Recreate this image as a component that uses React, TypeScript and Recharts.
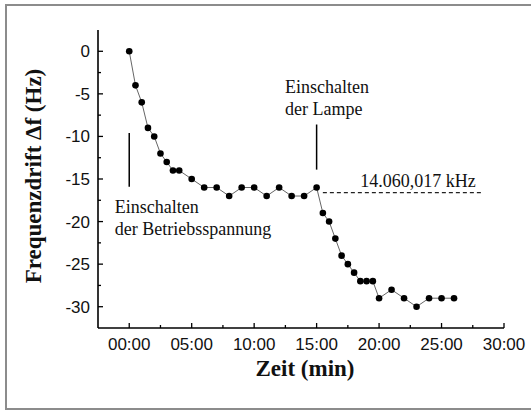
import React from 'react';
import { LineChart, Line, XAxis, YAxis, ReferenceLine, ReferenceDot, Label } from 'recharts';

// ---- data ----
const timeMin = [0, 0.5, 1, 1.5, 2, 2.5, 3, 3.5, 4, 5, 6, 7, 8, 9, 10, 11, 12, 13, 14, 15, 15.5, 16, 16.5, 17, 17.5, 18, 18.5, 19, 19.5, 20, 21, 22, 23, 24, 25, 26];
const driftHz = [0, -4, -6, -9, -10, -12, -13, -14, -14, -15, -16, -16, -17, -16, -16, -17, -16, -17, -17, -16, -19, -20, -22, -24, -25, -26, -27, -27, -27, -29, -28, -29, -30, -29, -29, -29];

const majorXTicks = [0, 5, 10, 15, 20, 25, 30];
const allXTicks = [0, 2.5, 5, 7.5, 10, 12.5, 15, 17.5, 20, 22.5, 25, 27.5, 30];
const majorYTicks = [-30, -25, -20, -15, -10, -5, 0];
const allYTicks = [-30, -27.5, -25, -22.5, -20, -17.5, -15, -12.5, -10, -7.5, -5, -2.5, 0];

const xDomain = [-2.5, 30];
const yDomain = [-32.5, 2.5];

const xTitle = 'Zeit (min)';
const yTitle = 'Frequenzdrift \u0394f (Hz)';

// annotations (data coordinates)
const markerSegments = [
  [{ x: 0, y: -9.6 }, { x: 0, y: -15.9 }],
  [{ x: 15, y: -8.6 }, { x: 15, y: -13.9 }],
];
const baselineSegment = [{ x: 15.5, y: -16.6 }, { x: 28.2, y: -16.6 }];
const annotTexts = [
  { x: -1.16, y: -19.0, lines: ['Einschalten', 'der Betriebsspannung'] },
  { x: 12.47, y: -4.9, lines: ['Einschalten', 'der Lampe'] },
  { x: 18.5, y: -15.9, lines: ['14.060,017 kHz'] },
];

const data = timeMin.map((t, i) => ({ t, drift: driftHz[i] }));

const SANS = '"Liberation Sans", Arial, sans-serif';
const SERIF = '"Liberation Serif", "Times New Roman", serif';

const fmtTime = (v: number) => `${String(v).padStart(2, '0')}:00`;

const BottomTick = (p: any) => {
  const v = p.payload.value;
  const major = majorXTicks.includes(v);
  return (
    <g>
      <line x1={p.x} x2={p.x} y1={p.y} y2={p.y - (major ? 5 : 3)} stroke="#000" strokeWidth={1.3} />
      {major && (
        <text x={p.x} y={p.y + 22} textAnchor="middle" fontFamily={SANS} fontSize={17} fill="#111">
          {fmtTime(v)}
        </text>
      )}
    </g>
  );
};

const TopTick = (p: any) => {
  const v = p.payload.value;
  const major = majorXTicks.includes(v);
  return <line x1={p.x} x2={p.x} y1={p.y} y2={p.y + (major ? 5 : 3)} stroke="#000" strokeWidth={1.3} />;
};

const LeftTick = (p: any) => {
  const v = p.payload.value;
  const major = majorYTicks.includes(v);
  return (
    <g>
      <line x1={p.x} x2={p.x + (major ? 5 : 3)} y1={p.y} y2={p.y} stroke="#000" strokeWidth={1.3} />
      {major && (
        <text x={p.x - 8} y={p.y + 6} textAnchor="end" fontFamily={SANS} fontSize={17} fill="#111">
          {String(v)}
        </text>
      )}
    </g>
  );
};

const RightTick = (p: any) => {
  const v = p.payload.value;
  const major = majorYTicks.includes(v);
  return <line x1={p.x} x2={p.x - (major ? 5 : 3)} y1={p.y} y2={p.y} stroke="#000" strokeWidth={1.3} />;
};

const YTitle = (props: any) => {
  const vb = props.viewBox;
  const cx = vb.x + 33;
  const cy = vb.y + vb.height / 2 - 3;
  return (
    <text
      x={cx}
      y={cy}
      transform={`rotate(-90 ${cx} ${cy})`}
      textAnchor="middle"
      dominantBaseline="central"
      fontFamily={SERIF}
      fontWeight="bold"
      fontSize={23}
      fill="#111"
    >
      {yTitle}
    </text>
  );
};

const XTitle = (props: any) => {
  const vb = props.viewBox;
  return (
    <text
      x={vb.x + vb.width / 2 + 4}
      y={vb.y + 48}
      textAnchor="middle"
      fontFamily={SERIF}
      fontWeight="bold"
      fontSize={23}
      fill="#111"
    >
      {xTitle}
    </text>
  );
};

const makeTextContent = (lines: string[]) => (props: any) => {
  const vb = props.viewBox;
  return (
    <text fontFamily={SERIF} fontSize={18} fill="#111">
      {lines.map((l, i) => (
        <tspan key={i} x={vb.x} y={vb.y + i * 21.7}>
          {l}
        </tspan>
      ))}
    </text>
  );
};

const axisLineStyle = { stroke: '#000', strokeWidth: 1.6 };

export default function App() {
  return (
    <div style={{ position: 'absolute', left: 0, top: 0, width: 531, height: 412, background: '#fff', overflow: 'hidden' }}>
      <div
        style={{
          position: 'absolute',
          left: 5,
          top: 4,
          width: 540,
          height: 402,
          borderTop: '2px solid #8c8c8c',
          borderLeft: '2px solid #8c8c8c',
          borderBottom: '2px solid #8c8c8c',
        }}
      />
      <div style={{ position: 'absolute', left: 0, top: 0 }}>
        <LineChart width={531} height={412} data={data} margin={{ top: 30, right: 27, bottom: 0, left: 0 }}>
          <XAxis
            dataKey="t"
            type="number"
            domain={xDomain}
            allowDataOverflow
            ticks={allXTicks}
            interval={0}
            tickSize={0}
            tickMargin={0}
            tickLine={false}
            tick={BottomTick}
            axisLine={axisLineStyle}
            height={84}
          >
            <Label content={XTitle} />
          </XAxis>
          <XAxis
            xAxisId="top"
            orientation="top"
            dataKey="t"
            type="number"
            domain={xDomain}
            allowDataOverflow
            ticks={allXTicks}
            interval={0}
            tickSize={0}
            tickMargin={0}
            tickLine={false}
            tick={TopTick}
            axisLine={axisLineStyle}
            height={0}
          />
          <YAxis
            type="number"
            domain={yDomain}
            allowDataOverflow
            ticks={allYTicks}
            interval={0}
            tickSize={0}
            tickMargin={0}
            tickLine={false}
            tick={LeftTick}
            axisLine={axisLineStyle}
            width={98}
          >
            <Label content={YTitle} />
          </YAxis>
          <YAxis
            yAxisId="right"
            orientation="right"
            type="number"
            domain={yDomain}
            allowDataOverflow
            ticks={allYTicks}
            interval={0}
            tickSize={0}
            tickMargin={0}
            tickLine={false}
            tick={RightTick}
            axisLine={axisLineStyle}
            width={0}
          />
          {markerSegments.map((seg, i) => (
            <ReferenceLine key={`m${i}`} segment={seg} stroke="#000" strokeWidth={1.5} />
          ))}
          <ReferenceLine segment={baselineSegment} stroke="#222" strokeWidth={1.4} strokeDasharray="4 3" />
          {annotTexts.map((a, i) => (
            <ReferenceDot key={`t${i}`} x={a.x} y={a.y} r={0} fill="none" stroke="none">
              <Label content={makeTextContent(a.lines)} />
            </ReferenceDot>
          ))}
          <Line
            dataKey="drift"
            stroke="#666"
            strokeWidth={1}
            dot={{ r: 3.3, fill: '#000', stroke: 'none' }}
            isAnimationActive={false}
          />
        </LineChart>
      </div>
    </div>
  );
}
